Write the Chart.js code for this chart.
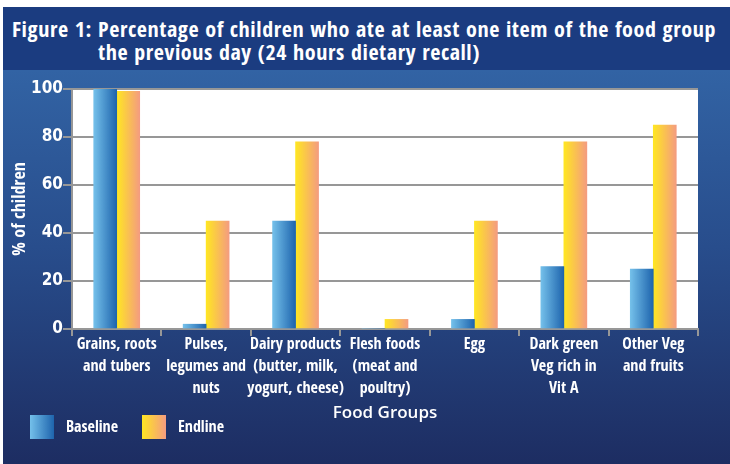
<!DOCTYPE html>
<html>
<head>
<meta charset="utf-8">
<script src="https://cdn.jsdelivr.net/npm/chart.js@4/dist/chart.umd.min.js"></script>
<style>
    html, body {
        margin: 0;
        padding: 0;
        background: #ffffff;
        width: 730px;
        height: 464px;
        overflow: hidden;
    }
    .title-band {
        position: absolute;
        left: 3px;
        top: 7px;
        width: 727px;
        height: 63px;
        background: #1b3c80;
        color: #ffffff;
        font-family: "Open Sans Condensed", "Roboto Condensed", sans-serif;
        font-weight: bold;
        font-size: 22px;
        letter-spacing: 0.6px;
        line-height: 24px;
    }
    .title-band div {
        position: absolute;
        white-space: nowrap;
    }
    .panel {
        position: absolute;
        left: 3px;
        top: 70px;
        width: 727px;
        height: 394px;
        background: linear-gradient(to bottom, #3263a4 0%, #284d8c 45%, #1d2d62 100%);
    }
</style>
</head>
<body>
<div class="title-band">
    <div style="left: 9px; top: 9px;">Figure 1: Percentage of children who ate at least one item of the food group</div>
    <div style="left: 95px; top: 32px;">the previous day (24 hours dietary recall)</div>
</div>
<div class="panel">
    <canvas id="foodChart" width="727" height="394"></canvas>
</div>
<script>
// Data
const categories = [
    ['Grains, roots', 'and tubers'],
    ['Pulses,', 'legumes and', 'nuts'],
    ['Dairy products', '(butter, milk,', 'yogurt, cheese)'],
    ['Flesh foods', '(meat and', 'poultry)'],
    'Egg',
    ['Dark green', 'Veg rich in', 'Vit A'],
    ['Other Veg', 'and fruits']
];
const baselineValues = [100, 2, 45, 0, 4, 26, 25];
const endlineValues = [99, 45, 78, 4, 45, 78, 85];
const yTicks = [0, 20, 40, 60, 80, 100];

const BAR_W = 23;
const CONDENSED = '"Open Sans Condensed", "Roboto Condensed", sans-serif';
const GRID = '#979797';

const baselineColors = ['#74c0ea', '#1e64ad'];
const endlineColors = ['#ffe622', '#f49c80'];

// Horizontal gradient for each bar, worked out from the category centre
function barGradient(colors, offset) {
    return function(context) {
        const chart = context.chart;
        const xScale = chart.scales.x;
        if (!chart.chartArea || !xScale || context.dataIndex === undefined) {
            return colors[1];
        }
        const x0 = xScale.getPixelForValue(context.dataIndex) + offset;
        const g = chart.ctx.createLinearGradient(x0, 0, x0 + BAR_W, 0);
        g.addColorStop(0, colors[0]);
        g.addColorStop(1, colors[1]);
        return g;
    };
}

// White plot background
const plotBackground = {
    id: 'plotBackground',
    beforeDraw(chart) {
        const { ctx, chartArea } = chart;
        ctx.save();
        ctx.fillStyle = '#ffffff';
        ctx.fillRect(chartArea.left, chartArea.top, chartArea.width, chartArea.height);
        ctx.restore();
    }
};

// Legend in the bottom left corner
const cornerLegend = {
    id: 'cornerLegend',
    afterDraw(chart) {
        const ctx = chart.ctx;
        const items = [
            { text: 'Baseline', colors: baselineColors, x: 27 },
            { text: 'Endline', colors: endlineColors, x: 139 }
        ];
        const top = 345;
        ctx.save();
        items.forEach(item => {
            const g = ctx.createLinearGradient(item.x, 0, item.x + 24, 0);
            g.addColorStop(0, item.colors[0]);
            g.addColorStop(1, item.colors[1]);
            ctx.fillStyle = g;
            ctx.fillRect(item.x, top, 24, 24);
            ctx.fillStyle = '#ffffff';
            ctx.font = 'bold 16px ' + CONDENSED;
            ctx.textBaseline = 'middle';
            ctx.textAlign = 'left';
            ctx.fillText(item.text, item.x + 36, top + 13);
        });
        ctx.restore();
    }
};

const ctx = document.getElementById('foodChart').getContext('2d');
new Chart(ctx, {
    type: 'bar',
    data: {
        labels: categories,
        datasets: [
            {
                label: 'Baseline',
                data: baselineValues,
                backgroundColor: barGradient(baselineColors, -BAR_W),
                barThickness: BAR_W,
                borderWidth: 0
            },
            {
                label: 'Endline',
                data: endlineValues,
                backgroundColor: barGradient(endlineColors, 0),
                barThickness: BAR_W,
                borderWidth: 0
            }
        ]
    },
    options: {
        responsive: false,
        animation: false,
        layout: {
            padding: { top: 19, right: 32, left: 0, bottom: 67 }
        },
        plugins: {
            legend: { display: false },
            tooltip: { enabled: false }
        },
        scales: {
            x: {
                afterFit(scale) { scale.height = 68; },
                grid: {
                    drawOnChartArea: false,
                    color: GRID,
                    lineWidth: 2,
                    tickLength: 7
                },
                border: { color: GRID, width: 2 },
                ticks: {
                    color: '#ffffff',
                    autoSkip: false,
                    maxRotation: 0,
                    padding: -2,
                    font: { family: CONDENSED, size: 16, weight: 'bold', lineHeight: 1.38 }
                },
                title: {
                    display: true,
                    text: 'Food Groups',
                    color: '#ffffff',
                    font: { family: '"Open Sans", sans-serif', size: 17, weight: '600', lineHeight: 1.2 },
                    padding: { top: 0, bottom: -26 }
                }
            },
            y: {
                min: 0,
                max: 100,
                afterFit(scale) { scale.width = 69; },
                afterBuildTicks(scale) { scale.ticks = yTicks.map(v => ({ value: v })); },
                grid: {
                    color: GRID,
                    lineWidth: 2,
                    tickLength: 9
                },
                border: { color: GRID, width: 2 },
                ticks: {
                    color: '#ffffff',
                    padding: 0,
                    font: { family: '"DejaVu Sans Condensed", sans-serif', size: 17, weight: 'bold' }
                },
                title: {
                    display: true,
                    text: '% of children',
                    color: '#ffffff',
                    font: { family: CONDENSED, size: 18, weight: 'bold', lineHeight: 1.2 },
                    padding: { top: 6, bottom: 0 }
                }
            }
        }
    },
    plugins: [plotBackground, cornerLegend]
});
</script>
</body>
</html>
